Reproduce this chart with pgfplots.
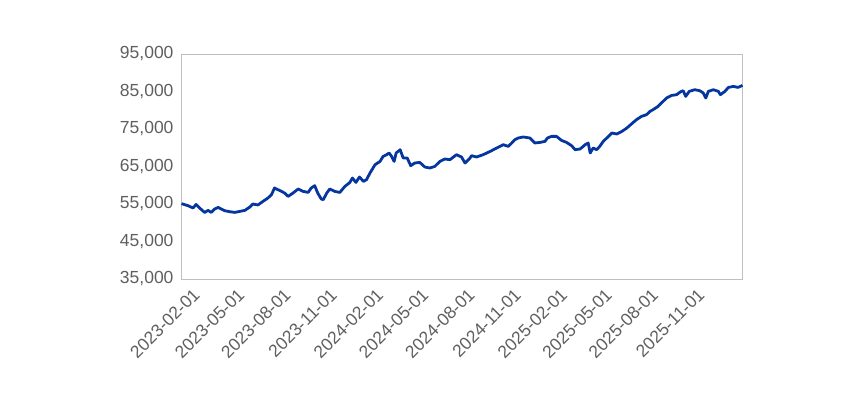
\documentclass[border=0pt]{standalone}
\usepackage{fontspec}
\setmainfont{Liberation Sans}
\usepackage{pgfplots}
\pgfplotsset{compat=1.18}
\definecolor{lineblue}{HTML}{0536A0}
\definecolor{ticktext}{HTML}{5F5F5F}
\definecolor{frame}{HTML}{BFBFBF}
\begin{document}
\begin{tikzpicture}
\useasboundingbox (-181.5bp,-117bp) rectangle (685.5bp,279bp);
\begin{axis}[
  at={(0,0)}, anchor=south west,
  scale only axis,
  width=561bp, height=225bp,
  xmin=0, xmax=1116,
  ymin=35000, ymax=95000,
  ytick={35000,45000,55000,65000,75000,85000,95000},
  xtick={31,120,212,304,396,486,578,670,762,851,943,1035},
  xticklabels={2023-02-01,2023-05-01,2023-08-01,2023-11-01,2024-02-01,2024-05-01,2024-08-01,2024-11-01,2025-02-01,2025-05-01,2025-08-01,2025-11-01},
  major tick length=0pt,
  axis line style={frame, line width=0.9bp},
  tick style={draw=none},
  /pgf/number format/assume math mode=true,
  /pgf/number format/.cd, 1000 sep={,}, fixed,
  /pgfplots/.cd,
  scaled y ticks=false,
  ticklabel style={text=ticktext, font=\fontsize{17.5bp}{20bp}\selectfont},
  yticklabel style={xshift=-4.5bp},
  xticklabel style={rotate=45, anchor=north east, xshift=-6bp, yshift=1bp},
  clip=false,
]
\addplot[lineblue, line width=2.8bp, line join=round] coordinates {
(0,55100) (13,54547) (23,53933) (29,54893) (36,53933) (46,52760) (53,53293) (59,52760)
(66,53667) (73,54093) (79,53667) (86,53213) (96,52947) (106,52760) (116,53027) (126,53293)
(136,54200) (142,55000) (152,54733) (162,55693) (172,56600) (179,57480) (185,59267) (192,58813)
(199,58360) (205,57933) (212,57027) (222,57933) (232,59000) (242,58360) (252,58093) (258,59267)
(265,59880) (271,57933) (278,56333) (282,56147) (289,57933) (295,59000) (305,58360) (315,58093)
(325,59693) (335,60760) (340,61933) (347,60760) (354,62200) (362,61027) (368,61480) (375,63267)
(385,65480) (395,66360) (401,67693) (408,68147) (413,68600) (418,67693) (423,66360) (427,68600)
(435,69480) (441,67267) (449,67267) (456,65213) (464,65933) (474,66093) (484,64867) (494,64600)
(504,65027) (514,66360) (524,67000) (534,66813) (547,68147) (557,67533) (564,65933) (574,67267)
(577,67880) (587,67533) (600,68147) (614,69027) (627,69933) (640,70813) (650,70360) (657,71267)
(663,72147) (670,72600) (680,72867) (693,72600) (703,71267) (713,71427) (723,71693) (728,72600)
(736,73027) (746,73027) (756,71960) (766,71427) (776,70547) (783,69480) (793,69667) (803,70813)
(809,71267) (813,68600) (819,69933) (826,69480) (832,70360) (839,71693) (846,72600) (856,73933)
(866,73667) (876,74360) (886,75267) (895,76333) (905,77480) (915,78360) (925,78813) (932,79693)
(938,80147) (948,81027) (958,82360) (965,83267) (975,83960) (985,84147) (992,84867) (998,85213)
(1003,83693) (1010,85027) (1021,85480) (1031,85213) (1038,84600) (1043,83267) (1048,85027) (1058,85480)
(1068,85027) (1072,84147) (1081,85027) (1088,86093) (1098,86360) (1107,86093) (1116,86627)
};
\end{axis}
\end{tikzpicture}
\end{document}
